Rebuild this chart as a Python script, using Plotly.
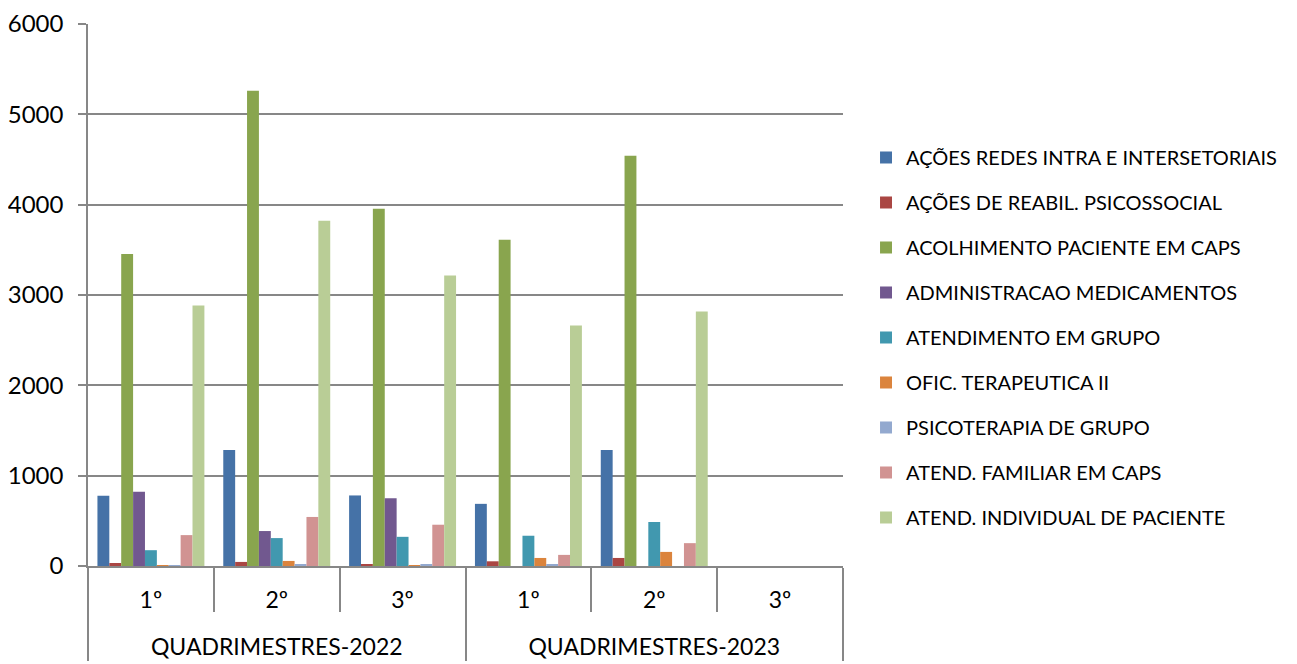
import plotly.graph_objects as go

years = ["QUADRIMESTRES-2022"] * 3 + ["QUADRIMESTRES-2023"] * 3
quads = ["1º", "2º", "3º", "1º", "2º", "3º"]

series_names = [
    "AÇÕES REDES INTRA E INTERSETORIAIS",
    "AÇÕES DE REABIL. PSICOSSOCIAL",
    "ACOLHIMENTO PACIENTE EM CAPS",
    "ADMINISTRACAO MEDICAMENTOS",
    "ATENDIMENTO EM GRUPO",
    "OFIC. TERAPEUTICA II",
    "PSICOTERAPIA DE GRUPO",
    "ATEND. FAMILIAR EM CAPS",
    "ATEND. INDIVIDUAL DE PACIENTE",
]

acoes_redes = [777, 1283, 781, 688, 1283, 0]
acoes_reabil = [33, 45, 22, 52, 89, 0]
acolhimento = [3455, 5260, 3956, 3613, 4541, 0]
administracao = [822, 387, 751, 0, 0, 0]
atend_grupo = [175, 309, 323, 335, 487, 0]
ofic_terapeutica = [11, 56, 7, 89, 156, 0]
psicoterapia = [4, 22, 19, 22, 0, 0]
atend_familiar = [342, 543, 457, 123, 253, 0]
atend_individual = [2884, 3823, 3215, 2663, 2818, 0]

series_values = [acoes_redes, acoes_reabil, acolhimento, administracao, atend_grupo,
                 ofic_terapeutica, psicoterapia, atend_familiar, atend_individual]

colors = ["#4572A7", "#AA4643", "#89A54E", "#71588F", "#4198AF",
          "#DB843D", "#93A9CF", "#D19392", "#B9CD96"]

y_ticks = [0, 1000, 2000, 3000, 4000, 5000, 6000]

FONT = "Lato"
GRID = "#878787"

# inner labels with a trailing blank line to open up the two-row table look
quad_labels = [q + "<br> " for q in quads]

fig = go.Figure()
for name, vals, col in zip(series_names, series_values, colors):
    fig.add_trace(go.Bar(
        x=[years, quad_labels], y=vals, name=name,
        marker=dict(color=col, line=dict(width=0)),
        legendgroup=name,
    ))

fig.update_layout(
    width=1289, height=656,
    margin=dict(l=80, r=454, t=16, b=98, autoexpand=False),
    paper_bgcolor="white", plot_bgcolor="white",
    barmode="group", bargap=0.15, bargroupgap=0,
    font=dict(family=FONT, color="#000000"),
    showlegend=True,
    legend=dict(
        x=1.0305, y=0.4216, xanchor="left", yanchor="middle",
        font=dict(family=FONT, size=20, color="#000000"),
        tracegroupgap=16, itemwidth=30,
        bgcolor="rgba(0,0,0,0)",
    ),
)

fig.update_yaxes(
    range=[0, 6000], tickvals=y_ticks, ticktext=[str(v) for v in y_ticks],
    showgrid=True, gridcolor=GRID, gridwidth=1.5,
    showline=True, linecolor=GRID, linewidth=1.5,
    ticks="outside", ticklen=8, tickcolor=GRID, tickwidth=1.5,
    ticklabelstandoff=10,
    tickfont=dict(family=FONT, size=24, color="#000000"),
    zeroline=False, automargin=False,
)

fig.update_xaxes(
    type="multicategory",
    showline=True, linecolor=GRID, linewidth=1.5,
    ticks="outside", tickson="boundaries", ticklen=44, tickcolor=GRID, tickwidth=1.5,
    showdividers=True, dividercolor=GRID, dividerwidth=1.5,
    ticklabelstandoff=13,
    tickfont=dict(family=FONT, size=23, color="#000000"),
    showgrid=False, automargin=False,
)

fig.write_html("out.html")
